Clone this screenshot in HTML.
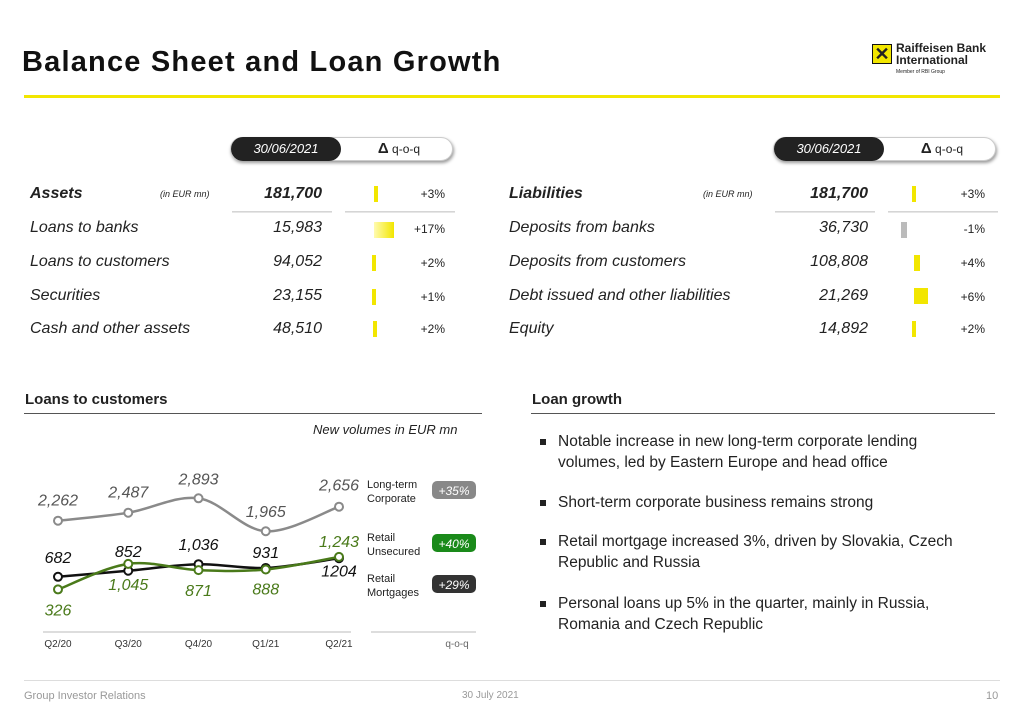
<!DOCTYPE html>
<html><head><meta charset="utf-8">
<style>
*{margin:0;padding:0;box-sizing:border-box}
body{width:1024px;height:724px;background:#fff;font-family:"Liberation Sans",sans-serif;color:#222;position:relative;overflow:hidden}
.abs{position:absolute}
.it{font-style:italic}
.row{position:absolute;font-size:16px;font-style:italic;color:#222}
.pct{position:absolute;font-size:12px;color:#222;text-align:right;width:40px}
.bar{position:absolute;background:#f2e600;width:4px;height:16px}
.pill{position:absolute;height:24px;border-radius:12px;box-shadow:1px 2px 3px #999;background:#fff;border:1px solid #ccc}
.pill .d{position:absolute;left:0;top:-1px;height:24px;width:110px;border-radius:12px;background:#222;color:#fff;font-size:13px;font-style:italic;text-align:center;line-height:24px}
.pill .q{position:absolute;left:118px;top:0;width:100px;text-align:center;line-height:22px;font-size:12px}
.sep{position:absolute;height:2px;background:linear-gradient(#ccc,#eee)}
.bul{position:absolute;left:540px;font-size:15.5px;line-height:21px;color:#222;width:440px;padding-left:18px}
.bul:before{content:"";position:absolute;left:0;top:8px;width:6px;height:6px;background:#222}
</style></head><body>
<div class="abs" style="left:22px;top:46px;font-size:29px;font-weight:bold;color:#111;letter-spacing:1.2px">Balance Sheet and Loan Growth</div>
<div class="abs" style="left:24px;top:95px;width:976px;height:3px;background:#f2e600"></div>
<div class="abs" style="left:872px;top:44px;width:130px;height:36px">
 <div style="position:absolute;left:0;top:0;width:20px;height:20px;background:#f2e600;border:1px solid #111;font-weight:bold;font-size:18px;line-height:18px;text-align:center">✕</div>
 <div style="position:absolute;left:24px;top:-2px;font-size:12px;font-weight:bold;line-height:12px">Raiffeisen Bank<br>International</div>
 <div style="position:absolute;left:24px;top:25px;font-size:5px">Member of RBI Group</div>
</div>

<!-- Assets table -->
<div class="pill" style="left:230px;top:137px;width:223px"><div class="d">30/06/2021</div><div class="q"><b style="font-size:15px">Δ</b> q-o-q</div></div>
<div class="row" style="left:30px;top:185px;font-weight:bold">Assets</div>
<div class="abs it" style="left:160px;top:189px;font-size:9px">(in EUR mn)</div>
<div class="row" style="left:230px;top:185px;width:92px;text-align:right;font-weight:bold">181,700</div>
<div class="sep" style="left:232px;top:211px;width:100px"></div><div class="sep" style="left:345px;top:211px;width:110px"></div>
<div class="row" style="left:30px;top:219px">Loans to banks</div><div class="row" style="left:230px;top:219px;width:92px;text-align:right">15,983</div>
<div class="row" style="left:30px;top:253px">Loans to customers</div><div class="row" style="left:230px;top:253px;width:92px;text-align:right">94,052</div>
<div class="row" style="left:30px;top:287px">Securities</div><div class="row" style="left:230px;top:287px;width:92px;text-align:right">23,155</div>
<div class="row" style="left:30px;top:320px">Cash and other assets</div><div class="row" style="left:230px;top:320px;width:92px;text-align:right">48,510</div>
<div class="bar" style="left:374px;top:186px"></div><div class="pct" style="left:405px;top:187px">+3%</div>
<div class="bar" style="left:374px;top:222px;width:20px;background:linear-gradient(90deg,#fffbb0,#f2e600)"></div><div class="pct" style="left:405px;top:222px">+17%</div>
<div class="bar" style="left:372px;top:255px"></div><div class="pct" style="left:405px;top:256px">+2%</div>
<div class="bar" style="left:372px;top:289px"></div><div class="pct" style="left:405px;top:290px">+1%</div>
<div class="bar" style="left:373px;top:321px"></div><div class="pct" style="left:405px;top:322px">+2%</div>

<!-- Liabilities table -->
<div class="pill" style="left:773px;top:137px;width:223px"><div class="d">30/06/2021</div><div class="q"><b style="font-size:15px">Δ</b> q-o-q</div></div>
<div class="row" style="left:509px;top:185px;font-weight:bold">Liabilities</div>
<div class="abs it" style="left:703px;top:189px;font-size:9px">(in EUR mn)</div>
<div class="row" style="left:770px;top:185px;width:98px;text-align:right;font-weight:bold">181,700</div>
<div class="sep" style="left:775px;top:211px;width:100px"></div><div class="sep" style="left:888px;top:211px;width:110px"></div>
<div class="row" style="left:509px;top:219px">Deposits from banks</div><div class="row" style="left:770px;top:219px;width:98px;text-align:right">36,730</div>
<div class="row" style="left:509px;top:253px">Deposits from customers</div><div class="row" style="left:770px;top:253px;width:98px;text-align:right">108,808</div>
<div class="row" style="left:509px;top:287px">Debt issued and other liabilities</div><div class="row" style="left:770px;top:287px;width:98px;text-align:right">21,269</div>
<div class="row" style="left:509px;top:320px">Equity</div><div class="row" style="left:770px;top:320px;width:98px;text-align:right">14,892</div>
<div class="bar" style="left:912px;top:186px"></div><div class="pct" style="left:945px;top:187px">+3%</div>
<div class="bar" style="left:901px;top:222px;width:6px;background:#bbb"></div><div class="pct" style="left:945px;top:222px">-1%</div>
<div class="bar" style="left:914px;top:255px;width:6px"></div><div class="pct" style="left:945px;top:256px">+4%</div>
<div class="bar" style="left:914px;top:288px;width:14px"></div><div class="pct" style="left:945px;top:290px">+6%</div>
<div class="bar" style="left:912px;top:321px"></div><div class="pct" style="left:945px;top:322px">+2%</div>

<!-- section headers -->
<div class="abs" style="left:25px;top:391px;font-size:15px;font-weight:bold">Loans to customers</div>
<div class="abs" style="left:24px;top:413px;width:458px;height:1px;background:#555"></div>
<div class="abs it" style="left:313px;top:422px;font-size:13px">New volumes in EUR mn</div>
<div class="abs" style="left:532px;top:391px;font-size:15px;font-weight:bold">Loan growth</div>
<div class="abs" style="left:531px;top:413px;width:464px;height:1px;background:#555"></div>

<div class="bul" style="top:431px">Notable increase in new long-term corporate lending volumes, led by Eastern Europe and head office</div>
<div class="bul" style="top:492px">Short-term corporate business remains strong</div>
<div class="bul" style="top:531px">Retail mortgage increased 3%, driven by Slovakia, Czech Republic and Russia</div>
<div class="bul" style="top:593px">Personal loans up 5% in the quarter, mainly in Russia, Romania and Czech Republic</div>

<svg class="abs" style="left:0;top:0" width="1024" height="724" id="chart"></svg>

<div class="abs" style="left:24px;top:680px;width:976px;height:1px;background:#ddd"></div>
<div class="abs" style="left:24px;top:690px;font-size:11px;color:#999">Group Investor Relations</div>
<div class="abs" style="left:462px;top:690px;font-size:10px;color:#999">30 July 2021</div>
<div class="abs" style="left:986px;top:690px;font-size:11px;color:#999">10</div>

<script>
const categories=["Q2/20","Q3/20","Q4/20","Q1/21","Q2/21"];
const longTerm=[2262,2487,2893,1965,2656];
const unsecured=[326,1045,871,888,1243];
const mortgages=[682,852,1036,931,1204];
const mortgageLabels=["682","852","1,036","931","1204"];
const longTermLabels=["2,262","2,487","2,893","1,965","2,656"];
const unsecuredLabels=["326","1,045","871","888","1,243"];
const ns="http://www.w3.org/2000/svg";
const svg=document.getElementById('chart');
const xs=i=>58+i*((339-58)/4)+(i==3?-3:0);
const ys=v=>601-0.0355*v;
function el(t,a,p){const e=document.createElementNS(ns,t);for(const k in a)e.setAttribute(k,a[k]);(p||svg).appendChild(e);return e;}
function path(vals){const p=vals.map((v,i)=>[xs(i),ys(v)]);let d=`M${p[0][0]},${p[0][1]}`;
 for(let i=0;i<p.length-1;i++){const p0=p[Math.max(0,i-1)],p1=p[i],p2=p[i+1],p3=p[Math.min(p.length-1,i+2)];
 d+=` C${p1[0]+(p2[0]-p0[0])/6},${p1[1]+(p2[1]-p0[1])/6} ${p2[0]-(p3[0]-p1[0])/6},${p2[1]-(p3[1]-p1[1])/6} ${p2[0]},${p2[1]}`;}return d;}
function series(vals,labels,color,fill,name,offs,lblColor){
 const l=el('path',{d:path(vals),fill:'none',stroke:color,'stroke-width':2.5});
 
 
 vals.forEach((v,i)=>{const c=el('circle',{cx:xs(i),cy:ys(v),r:4,fill:'#fff',stroke:fill,'stroke-width':2});
  
  
  const t=el('text',{x:xs(i),y:ys(v)+offs[i],'text-anchor':'middle','font-size':16,'font-style':'italic',fill:lblColor});
  
  
  t.textContent=labels[i];});
}
series(longTerm,longTermLabels,'#8a8a8a','#8a8a8a','long-term-corporate',[-15,-15,-14,-14,-16],'#555');
series(mortgages,mortgageLabels,'#111','#111','retail-mortgages',[-14,-14,-14,-10,18],'#111');
series(unsecured,unsecuredLabels,'#4a7a1a','#4a7a1a','retail-unsecured',[26,26,26,25,-10],'#4a7a1a');
el('rect',{x:43,y:631,width:308,height:2,fill:'#ddd'});
el('rect',{x:371,y:631,width:105,height:2,fill:'#ddd'});
categories.forEach((c,i)=>{const t=el('text',{x:xs(i),y:647,'text-anchor':'middle','font-size':10,fill:'#333'});
 
 
 t.textContent=c;});
const q=el('text',{x:457,y:647,'text-anchor':'middle','font-size':10,fill:'#666'});q.textContent='q-o-q';
const leg=[["Long-term","Corporate","+35%","#888",484],["Retail","Unsecured","+40%","#1a8a1a",537],["Retail","Mortgages","+29%","#333",578]];
leg.forEach(l=>{const t=el('text',{x:367,y:l[4]+4,'font-size':11,fill:'#222'});t.textContent=l[0];
 const t2=el('text',{x:367,y:l[4]+18,'font-size':11,fill:'#222'});t2.textContent=l[1];
 const r=el('rect',{x:432,y:l[4]-3,width:44,height:18,rx:5,fill:l[3]});
 
 
 const b=el('text',{x:454,y:l[4]+11,'text-anchor':'middle','font-size':12,'font-style':'italic',fill:'#fff'});b.textContent=l[2];});
</script>
</body></html>
